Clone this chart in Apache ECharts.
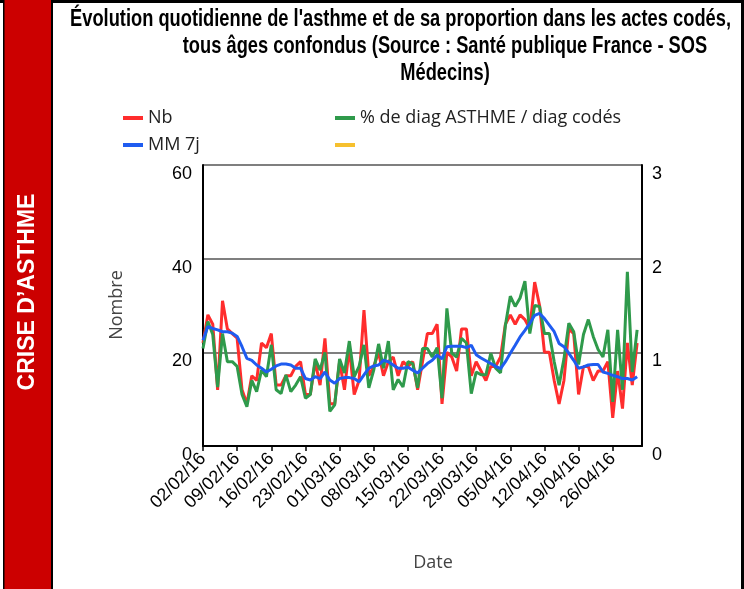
<!DOCTYPE html>
<html>
<head>
<meta charset="utf-8">
<script src="https://cdn.jsdelivr.net/npm/echarts@6/dist/echarts.min.js"></script>
<style>
  html, body { margin: 0; padding: 0; background: #fff; }
  #chart { width: 744px; height: 589px; }
</style>
</head>
<body>
<div id="chart"></div>
<script>
// Daily dates (dd/mm/yy), one per category; the last one closes the axis
const dates = [
  '02/02/16','03/02/16','04/02/16','05/02/16','06/02/16','07/02/16','08/02/16',
  '09/02/16','10/02/16','11/02/16','12/02/16','13/02/16','14/02/16','15/02/16',
  '16/02/16','17/02/16','18/02/16','19/02/16','20/02/16','21/02/16','22/02/16',
  '23/02/16','24/02/16','25/02/16','26/02/16','27/02/16','28/02/16','29/02/16',
  '01/03/16','02/03/16','03/03/16','04/03/16','05/03/16','06/03/16','07/03/16',
  '08/03/16','09/03/16','10/03/16','11/03/16','12/03/16','13/03/16','14/03/16',
  '15/03/16','16/03/16','17/03/16','18/03/16','19/03/16','20/03/16','21/03/16',
  '22/03/16','23/03/16','24/03/16','25/03/16','26/03/16','27/03/16','28/03/16',
  '29/03/16','30/03/16','31/03/16','01/04/16','02/04/16','03/04/16','04/04/16',
  '05/04/16','06/04/16','07/04/16','08/04/16','09/04/16','10/04/16','11/04/16',
  '12/04/16','13/04/16','14/04/16','15/04/16','16/04/16','17/04/16','18/04/16',
  '19/04/16','20/04/16','21/04/16','22/04/16','23/04/16','24/04/16','25/04/16',
  '26/04/16','27/04/16','28/04/16','29/04/16','30/04/16','01/05/16','02/05/16'
];

// Daily number of asthma acts
const nb = [
  22, 28, 26, 12, 31, 25, 24, 23, 12, 9,
  15, 14, 22, 21, 24, 13, 13, 15, 15, 17,
  18, 11, 11, 18, 13, 23, 9, 9, 18, 12,
  21, 11, 14, 29, 15, 17, 20, 15, 18, 19,
  15, 18, 17, 18, 12, 18, 24, 24, 26, 9,
  20, 19, 16, 25, 25, 15, 18, 16, 14, 17,
  17, 19, 26, 28, 26, 28, 27, 25, 35, 30,
  20, 20, 14, 9, 14, 25, 24, 11, 17, 17,
  14, 16, 16, 18, 6, 16, 8, 22, 13, 22
];

// Share of asthma diagnoses among coded diagnoses (%)
const pct = [
  1.04, 1.33, 1.19, 0.63, 1.20, 0.90, 0.90, 0.85, 0.55, 0.42,
  0.70, 0.58, 0.81, 0.74, 1.08, 0.60, 0.56, 0.76, 0.58, 0.65,
  0.74, 0.51, 0.55, 0.93, 0.81, 1.00, 0.37, 0.44, 0.93, 0.78,
  1.12, 0.74, 0.85, 1.08, 0.62, 0.81, 1.09, 0.83, 1.12, 0.60,
  0.71, 0.63, 0.90, 0.88, 0.62, 1.04, 1.04, 0.95, 1.05, 0.51,
  1.47, 0.99, 0.95, 1.15, 1.10, 0.56, 0.79, 0.76, 0.76, 0.99,
  0.83, 0.78, 1.29, 1.60, 1.49, 1.58, 1.76, 1.20, 1.50, 1.49,
  1.20, 1.20, 0.90, 0.65, 0.93, 1.31, 1.22, 0.87, 1.19, 1.35,
  1.17, 1.03, 0.95, 1.24, 0.47, 1.24, 0.60, 1.86, 0.79, 1.24
];

// 7-day moving average of the daily number
const mm7 = [
  22.6, 25.5, 25.1, 24.8, 24.4, 24.4, 24.1, 23.4, 21.2, 18.7,
  18.3, 17.3, 16.6, 15.8, 16.4, 17.1, 17.5, 17.5, 17.3, 16.6,
  16.6, 14.4, 14.1, 14.8, 14.4, 15.8, 14.1, 13.4, 14.4, 14.6,
  14.6, 14.4, 13.7, 15.2, 16.6, 17.1, 17.3, 18.3, 18.0, 17.3,
  16.6, 16.6, 16.8, 16.2, 15.6, 16.6, 17.6, 18.3, 19.4, 18.6,
  21.2, 21.3, 21.3, 21.3, 21.0, 21.5, 19.5, 18.8, 18.2, 17.6,
  17.0, 16.5, 18.0, 19.8, 21.5, 23.3, 24.7, 26.2, 27.9, 28.3,
  27.2, 25.8, 24.4, 21.9, 21.2, 19.8, 18.3, 16.6, 16.9, 17.3,
  17.4, 17.4, 15.8, 15.5, 15.1, 14.8, 14.4, 14.4, 14.1, 14.8
];

const leftTicks = [0, 20, 40, 60];
const rightTicks = [0, 1, 2, 3];

const seriesNames = ['Nb', '% de diag ASTHME / diag codés', 'MM 7j', ' '];
const titleLines = [
  "Évolution quotidienne de l'asthme et de sa proportion dans les actes codés,",
  'tous âges confondus (Source : Santé publique France - SOS',
  'Médecins)'
];
const sideLabel = 'CRISE D’ASTHME';

const pad = arr => arr.concat([null]);

// condensed bold heading: squeeze a regular bold face horizontally
const titleFont = 'bold 22px "Liberation Sans", Arial, sans-serif';
const ctx = document.createElement('canvas').getContext('2d');
ctx.font = titleFont;
const titleScale = 661 / ctx.measureText(titleLines[0]).width;
const titleScaleY = 1.08;

const chart = echarts.init(document.getElementById('chart'), null, { renderer: 'canvas' });

const uiFont = '"Open Sans", "Liberation Sans", sans-serif';
const tickFont = '"Liberation Sans", Arial, sans-serif';

const titleText = (line, x, y) => ({
  type: 'text', x: x, y: y, scaleX: titleScale, scaleY: titleScaleY, z: 12,
  style: { text: line, fill: '#000', font: titleFont, textAlign: 'center', textVerticalAlign: 'middle' }
});

const option = {
  animation: false,
  backgroundColor: '#fff',
  grid: { left: 203, right: 102, top: 165, bottom: 143, containLabel: false },
  legend: [
    {
      data: [seriesNames[0], seriesNames[2]],
      orient: 'vertical', left: 118, top: 104,
      icon: 'rect', itemWidth: 20, itemHeight: 4, itemGap: 9,
      selectedMode: false,
      textStyle: { fontFamily: uiFont, fontSize: 18, color: '#222', lineHeight: 18 }
    },
    {
      data: [seriesNames[1], seriesNames[3]],
      orient: 'vertical', left: 330, top: 104,
      icon: 'rect', itemWidth: 20, itemHeight: 4, itemGap: 9,
      selectedMode: false,
      textStyle: { fontFamily: uiFont, fontSize: 18, color: '#222', lineHeight: 18 }
    }
  ],
  xAxis: {
    type: 'category',
    data: dates,
    boundaryGap: false,
    axisLine: { lineStyle: { color: '#000', width: 2 } },
    axisTick: { interval: 6, length: 5, lineStyle: { color: '#000', width: 1.5 } },
    axisLabel: {
      interval: 6, rotate: 45, margin: 10,
      fontFamily: tickFont, fontSize: 18, color: '#000'
    },
    splitLine: { show: false }
  },
  yAxis: [
    {
      type: 'value', min: leftTicks[0], max: leftTicks[leftTicks.length - 1], interval: 20,
      axisLine: { show: true, lineStyle: { color: '#000', width: 2 } },
      axisTick: { show: false },
      axisLabel: { fontFamily: tickFont, fontSize: 18, color: '#000', margin: 11, verticalAlign: 'top' },
      splitLine: { show: true, lineStyle: { color: '#555', width: 1.5 } }
    },
    {
      type: 'value', min: rightTicks[0], max: rightTicks[rightTicks.length - 1], interval: 1,
      axisLine: { show: true, lineStyle: { color: '#000', width: 2 } },
      axisTick: { show: false },
      axisLabel: { fontFamily: tickFont, fontSize: 18, color: '#000', margin: 10, verticalAlign: 'top' },
      splitLine: { show: false }
    }
  ],
  series: [
    {
      name: seriesNames[0], type: 'line', yAxisIndex: 0, data: pad(nb),
      showSymbol: false, symbol: 'none', z: 2,
      color: '#ff2d2d', lineStyle: { width: 3, color: '#ff2d2d' }
    },
    {
      name: seriesNames[1], type: 'line', yAxisIndex: 1, data: pad(pct),
      showSymbol: false, symbol: 'none', z: 3,
      color: '#2f9a4b', lineStyle: { width: 3, color: '#2f9a4b' }
    },
    {
      name: seriesNames[2], type: 'line', yAxisIndex: 0, data: pad(mm7),
      showSymbol: false, symbol: 'none', z: 4,
      color: '#1f5cf0', lineStyle: { width: 3, color: '#1f5cf0' }
    },
    {
      name: seriesNames[3], type: 'line', yAxisIndex: 0, data: [],
      showSymbol: false, symbol: 'none',
      color: '#f6c02e', lineStyle: { width: 3, color: '#f6c02e' }
    }
  ],
  graphic: [
    // page frame and the red side band
    { type: 'rect', shape: { x: 0, y: 0, width: 744, height: 3 }, style: { fill: '#000' }, z: 10 },
    { type: 'rect', shape: { x: 741, y: 0, width: 3, height: 589 }, style: { fill: '#000' }, z: 10 },
    { type: 'rect', shape: { x: 3, y: 0, width: 50, height: 589 }, style: { fill: '#000' }, z: 10 },
    { type: 'rect', shape: { x: 4.5, y: 0, width: 46.5, height: 589 }, style: { fill: '#cc0000' }, z: 11 },
    {
      type: 'text', x: 28, y: 292, rotation: Math.PI / 2, z: 12,
      style: {
        text: sideLabel, fill: '#fff',
        font: 'bold 23px "Liberation Sans", Arial, sans-serif',
        textAlign: 'center', textVerticalAlign: 'middle'
      }
    },
    // heading
    titleText(titleLines[0], 400.5, 19),
    titleText(titleLines[1], 445, 46),
    titleText(titleLines[2], 445, 73),
    // axis titles
    {
      type: 'text', x: 117, y: 305, rotation: Math.PI / 2, z: 12,
      style: { text: 'Nombre', fill: '#444', font: '18px ' + uiFont, textAlign: 'center', textVerticalAlign: 'middle' }
    },
    {
      type: 'text', x: 433, y: 563, z: 12,
      style: { text: 'Date', fill: '#444', font: '18px ' + uiFont, textAlign: 'center', textVerticalAlign: 'middle' }
    }
  ]
};

chart.setOption(option);
</script>
</body>
</html>
